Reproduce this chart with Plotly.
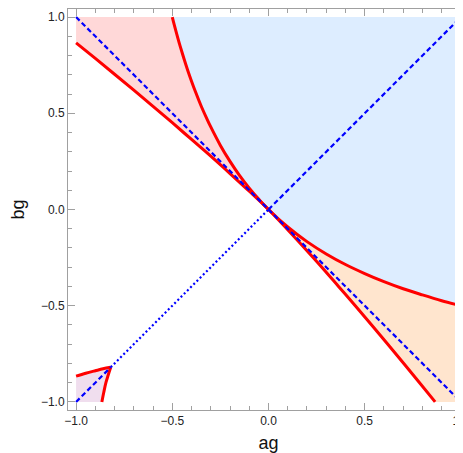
import plotly.graph_objects as go

# red boundary through the origin (upper-left to lower-right)
red_mid_ag = [-1.0, -0.9, -0.8, -0.7, -0.6, -0.5, -0.4, -0.3, -0.2, -0.1, 0.0,
              0.095, 0.187, 0.277, 0.364, 0.451, 0.536, 0.620, 0.703, 0.785, 0.866]
red_mid_bg = [0.866, 0.785, 0.703, 0.620, 0.536, 0.451, 0.364, 0.277, 0.187, 0.095, 0.0,
              -0.1, -0.2, -0.3, -0.4, -0.5, -0.6, -0.7, -0.8, -0.9, -1.0]

# red boundary of the blue region
red_up_ag = [-0.5, -0.49, -0.47, -0.46, -0.44, -0.42, -0.4, -0.38, -0.35, -0.32, -0.3, -0.25,
             -0.2, -0.15, -0.1, -0.05, 0.0, 0.1, 0.2, 0.3, 0.4, 0.5, 0.6, 0.7, 0.8, 0.9, 1.0]
red_up_bg = [1.0, 0.961, 0.887, 0.852, 0.786, 0.724, 0.667, 0.613, 0.538, 0.471, 0.429, 0.333,
             0.25, 0.176, 0.111, 0.053, 0.0, -0.091, -0.167, -0.231, -0.286, -0.333, -0.375,
             -0.412, -0.444, -0.474, -0.5]

# small corner in the lower left
corner_top_ag = [-1.0, -0.95, -0.9, -0.86, -0.82]
corner_top_bg = [-0.866, -0.851, -0.838, -0.828, -0.82]
corner_side_ag = [-0.866, -0.856, -0.845, -0.833, -0.82]
corner_side_bg = [-1.0, -0.95, -0.9, -0.86, -0.82]
cusp = -0.82

ticks = [-1.0, -0.5, 0.0, 0.5, 1.0]

n0 = red_mid_ag.index(0.0)
m0 = red_up_ag.index(0.0)

fig = go.Figure()

def region(xs, ys, color):
    fig.add_trace(go.Scatter(x=xs, y=ys, fill="toself", fillcolor=color, mode="none",
                             hoverinfo="skip", showlegend=False))

# blue region
region(red_up_ag + [1.0, -0.5], red_up_bg + [1.0, 1.0], "rgb(221,237,255)")
# pink region (upper left)
region([-1.0, -0.5] + red_up_ag[1:m0 + 1] + red_mid_ag[n0::-1],
       [1.0, 1.0] + red_up_bg[1:m0 + 1] + red_mid_bg[n0::-1], "rgb(255,216,216)")
# peach region (lower right)
region(red_mid_ag[n0:] + [1.0] + red_up_ag[:m0 - 1:-1],
       red_mid_bg[n0:] + [-1.0] + red_up_bg[:m0 - 1:-1], "rgb(255,229,206)")
# lavender corner
region([-1.0] + corner_top_ag + corner_side_ag[::-1],
       [-1.0] + corner_top_bg + corner_side_bg[::-1], "rgb(240,222,238)")

red = dict(color="rgb(255,0,0)", width=3)
for xs, ys in [(red_mid_ag, red_mid_bg), (red_up_ag, red_up_bg),
               (corner_top_ag, corner_top_bg), (corner_side_ag, corner_side_bg)]:
    fig.add_trace(go.Scatter(x=xs, y=ys, mode="lines", line=red, line_shape="spline",
                             hoverinfo="skip", showlegend=False))

blue = "rgb(0,0,255)"
fig.add_trace(go.Scatter(x=[-1, 1], y=[1, -1], mode="lines",
                         line=dict(color=blue, width=2.2, dash="5px,3px"), showlegend=False))
fig.add_trace(go.Scatter(x=[-1, cusp], y=[-1, cusp], mode="lines",
                         line=dict(color=blue, width=2.2, dash="5px,3px"), showlegend=False))
fig.add_trace(go.Scatter(x=[0, 1], y=[0, 1], mode="lines",
                         line=dict(color=blue, width=2.2, dash="5px,3px"), showlegend=False))
fig.add_trace(go.Scatter(x=[cusp, 0], y=[cusp, 0], mode="lines",
                         line=dict(color=blue, width=2.2, dash="2px,2.5px"), showlegend=False))

axis = dict(range=[-1.042, 1.042], tickvals=ticks, tickformat=".1f", automargin=False,
            ticks="inside", ticklen=7, tickcolor="#a0a0a0", showline=True, linecolor="#a0a0a0",
            linewidth=1, mirror="ticks", showgrid=False, zeroline=False,
            minor=dict(dtick=0.1, tick0=0, ticks="inside", ticklen=4, tickcolor="#a0a0a0"),
            tickfont=dict(family="Liberation Sans", size=12, color="#222"))

fig.update_layout(
    width=463, height=453,
    margin=dict(l=60, r=2, t=1, b=51),
    plot_bgcolor="white", paper_bgcolor="white",
    xaxis=dict(axis, title=dict(text="ag", standoff=8,
                                font=dict(family="Liberation Sans", size=18, color="#111"))),
    yaxis=dict(axis, title=dict(text="bg", standoff=11,
                                font=dict(family="Liberation Sans", size=18, color="#111"))),
)

fig.write_html("out.html")
